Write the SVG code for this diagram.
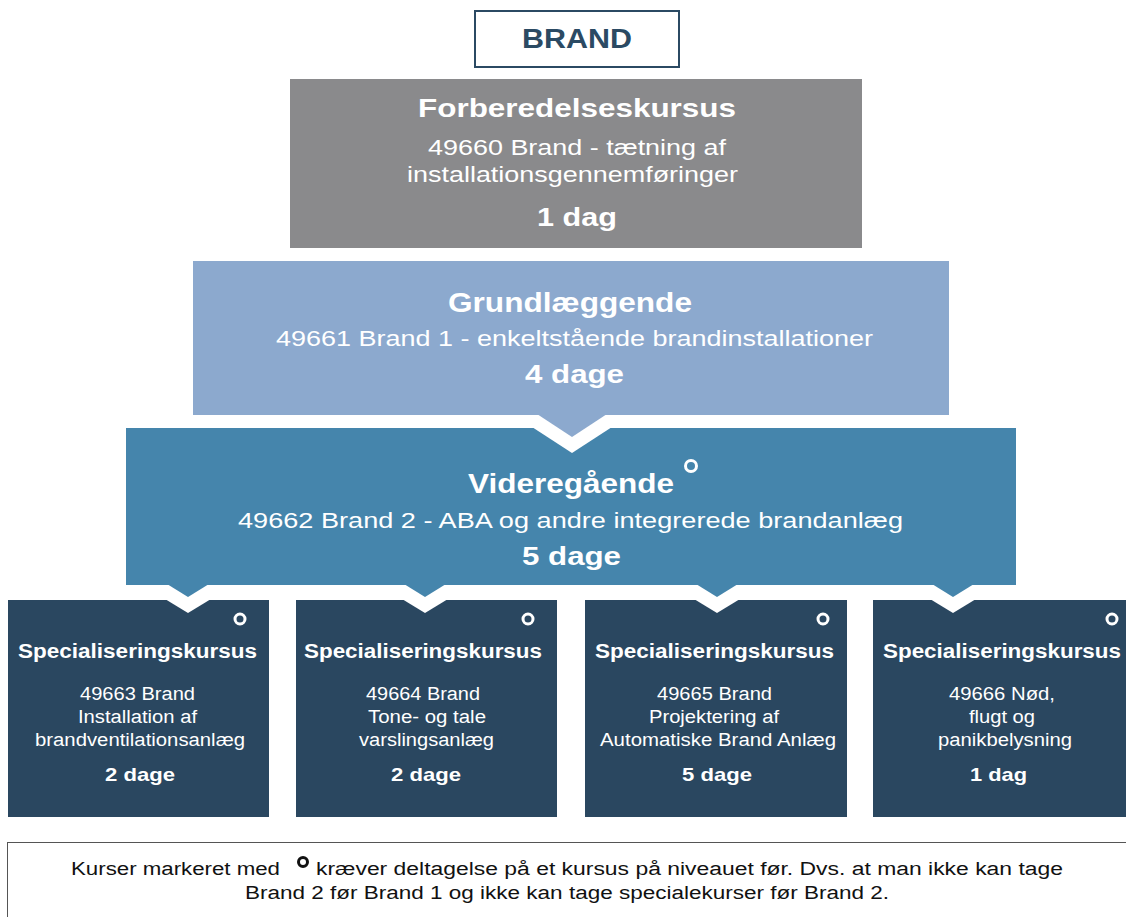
<svg xmlns="http://www.w3.org/2000/svg" width="1126" height="917" viewBox="0 0 1126 917">
<style>
text{font-family:"Liberation Sans",Arial,sans-serif;}
.w{fill:#ffffff;}
.b{font-weight:bold;}
.t{font-size:27px;}
.s{font-size:22px;}
.d{font-size:25px;}
.sp{font-size:20px;}
.sb{font-size:18px;}
.sd{font-size:19px;}
.ring{fill:none;stroke:#ffffff;stroke-width:3;}
.dark{fill:#2a4760;}
.notch{fill:#ffffff;}
</style>
<rect width="1126" height="917" fill="#ffffff"/>
<g id="brand">
<rect x="475" y="11" width="204" height="56" fill="#ffffff" stroke="#2b4a63" stroke-width="2"/>
<text x="522" y="48" class="b" font-size="27" fill="#2b4a63" textLength="110" lengthAdjust="spacingAndGlyphs">BRAND</text>
</g>
<g id="forberedelse">
<rect x="290" y="79" width="572" height="169" fill="#8a8a8c"/>
<text x="418" y="117" class="w b" font-size="26" textLength="318" lengthAdjust="spacingAndGlyphs">Forberedelseskursus</text>
<text x="428" y="155" class="w s" textLength="298" lengthAdjust="spacingAndGlyphs">49660 Brand - tætning af</text>
<text x="407" y="182" class="w s" textLength="331" lengthAdjust="spacingAndGlyphs">installationsgennemføringer</text>
<text x="537" y="226" class="w b" font-size="26" textLength="80" lengthAdjust="spacingAndGlyphs">1 dag</text>
</g>
<g id="grundlaeggende">
<rect x="193" y="261" width="756" height="154" fill="#8ca9ce"/>
<text x="448" y="312" class="w b t" textLength="244" lengthAdjust="spacingAndGlyphs">Grundlæggende</text>
<text x="276" y="346" class="w s" textLength="597" lengthAdjust="spacingAndGlyphs">49661 Brand 1 - enkeltstående brandinstallationer</text>
<text x="525" y="383" class="w b d" textLength="99" lengthAdjust="spacingAndGlyphs">4 dage</text>
</g>
<g id="videregaaende">
<rect x="126" y="428" width="890" height="157" fill="#4585ac"/>
<text x="468" y="493" class="w b t" textLength="206" lengthAdjust="spacingAndGlyphs">Videregående</text>
<circle cx="691" cy="466" r="5.5" class="ring"/>
<text x="238" y="528" class="w s" textLength="665" lengthAdjust="spacingAndGlyphs">49662 Brand 2 - ABA og andre integrerede brandanlæg</text>
<text x="522" y="565" class="w b d" textLength="99" lengthAdjust="spacingAndGlyphs">5 dage</text>
</g>
<g id="spec1">
<rect x="8" y="600" width="261" height="217" class="dark"/>
<circle cx="240" cy="619" r="5" class="ring"/>
<text x="18" y="658" class="w b sp" textLength="239" lengthAdjust="spacingAndGlyphs">Specialiseringskursus</text>
<text x="80" y="700" class="w sb" textLength="115" lengthAdjust="spacingAndGlyphs">49663 Brand</text>
<text x="78" y="723" class="w sb" textLength="119" lengthAdjust="spacingAndGlyphs">Installation af</text>
<text x="35" y="746" class="w sb" textLength="210" lengthAdjust="spacingAndGlyphs">brandventilationsanlæg</text>
<text x="105" y="781" class="w b sd" textLength="70" lengthAdjust="spacingAndGlyphs">2 dage</text>
</g>
<g id="spec2">
<rect x="296" y="600" width="261" height="217" class="dark"/>
<circle cx="528" cy="619" r="5" class="ring"/>
<text x="304" y="658" class="w b sp" textLength="238" lengthAdjust="spacingAndGlyphs">Specialiseringskursus</text>
<text x="366" y="700" class="w sb" textLength="114" lengthAdjust="spacingAndGlyphs">49664 Brand</text>
<text x="368" y="723" class="w sb" textLength="118" lengthAdjust="spacingAndGlyphs">Tone- og tale</text>
<text x="359" y="746" class="w sb" textLength="135" lengthAdjust="spacingAndGlyphs">varslingsanlæg</text>
<text x="391" y="781" class="w b sd" textLength="70" lengthAdjust="spacingAndGlyphs">2 dage</text>
</g>
<g id="spec3">
<rect x="585" y="600" width="262" height="217" class="dark"/>
<circle cx="823" cy="619" r="5" class="ring"/>
<text x="595" y="658" class="w b sp" textLength="239" lengthAdjust="spacingAndGlyphs">Specialiseringskursus</text>
<text x="657" y="700" class="w sb" textLength="115" lengthAdjust="spacingAndGlyphs">49665 Brand</text>
<text x="649" y="723" class="w sb" textLength="130" lengthAdjust="spacingAndGlyphs">Projektering af</text>
<text x="600" y="746" class="w sb" textLength="236" lengthAdjust="spacingAndGlyphs">Automatiske Brand Anlæg</text>
<text x="682" y="781" class="w b sd" textLength="70" lengthAdjust="spacingAndGlyphs">5 dage</text>
</g>
<g id="spec4">
<rect x="873" y="600" width="260" height="217" class="dark"/>
<circle cx="1112" cy="619" r="5" class="ring"/>
<text x="883" y="658" class="w b sp" textLength="238" lengthAdjust="spacingAndGlyphs">Specialiseringskursus</text>
<text x="949" y="700" class="w sb" textLength="106" lengthAdjust="spacingAndGlyphs">49666 Nød,</text>
<text x="969" y="723" class="w sb" textLength="66" lengthAdjust="spacingAndGlyphs">flugt og</text>
<text x="938" y="746" class="w sb" textLength="134" lengthAdjust="spacingAndGlyphs">panikbelysning</text>
<text x="970" y="781" class="w b sd" textLength="57" lengthAdjust="spacingAndGlyphs">1 dag</text>
</g>
<g id="connectors">
<polygon class="notch" points="532,427 572,453 612,427"/>
<polygon class="notch" points="165,599 188,613 211,599"/>
<polygon class="notch" points="402,599 425,613 448,599"/>
<polygon class="notch" points="694,599 717,613 740,599"/>
<polygon class="notch" points="930,599 953,613 976,599"/>
<polygon fill="#8ca9ce" points="537,414 572,437 607,414"/>
<polygon fill="#4585ac" points="167,584 188,597 209,584"/>
<polygon fill="#4585ac" points="404,584 425,597 446,584"/>
<polygon fill="#4585ac" points="696,584 717,597 738,584"/>
<polygon fill="#4585ac" points="932,584 953,597 974,584"/>
</g>
<g id="footer">
<rect x="7.5" y="842.5" width="1125" height="82" fill="#ffffff" stroke="#555555" stroke-width="1"/>
<text x="71" y="875" font-size="18" fill="#111111" textLength="209" lengthAdjust="spacingAndGlyphs">Kurser markeret med</text>
<circle cx="303" cy="862" r="4.5" fill="none" stroke="#111111" stroke-width="3"/>
<text x="316" y="875" font-size="18" fill="#111111" textLength="747" lengthAdjust="spacingAndGlyphs">kræver deltagelse på et kursus på niveauet før. Dvs. at man ikke kan tage</text>
<text x="245" y="899" font-size="18" fill="#111111" textLength="644" lengthAdjust="spacingAndGlyphs">Brand 2 før Brand 1 og ikke kan tage specialekurser før Brand 2.</text>
</g>
</svg>
